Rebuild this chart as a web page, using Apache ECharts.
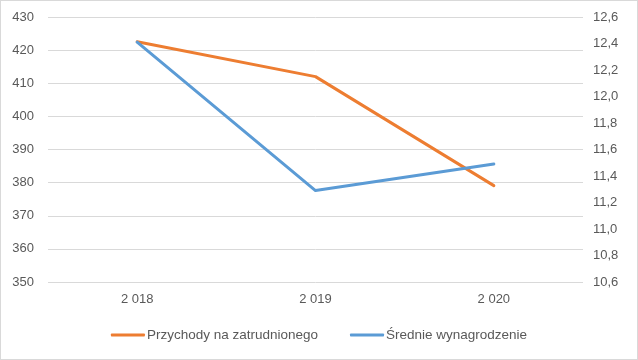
<!DOCTYPE html>
<html><head><meta charset="utf-8">
<script src="https://cdn.jsdelivr.net/npm/echarts@6/dist/echarts.min.js"></script>
<style>html,body{margin:0;padding:0;background:#fff}#c{width:638px;height:360px;box-sizing:border-box;border:1px solid #d9d9d9}</style>
</head><body><div id="c"></div>
<script>
const categories = ['2 018', '2 019', '2 020'];
const przychody = [422.5, 412.0, 379.1];
const wynagrodzenie = [12.41, 11.29, 11.49];
const seriesNames = ['Przychody na zatrudnionego', 'Średnie wynagrodzenie'];

const chart = echarts.init(document.getElementById('c'), null, {renderer: 'canvas'});
const font = 'Liberation Sans, Arial, sans-serif';
const txt = '#595959';
chart.setOption({
  animation: false,
  grid: {left: 47, right: 54, top: 16, bottom: 77},
  legend: {
    bottom: 12, left: 'center', itemGap: 32, itemWidth: 34, itemHeight: 3,
    icon: 'roundRect',
    textStyle: {color: txt, fontFamily: font, fontSize: 13.5, padding: [0,0,0,-3]},
    data: seriesNames
  },
  xAxis: {
    type: 'category', data: categories, boundaryGap: true,
    axisLine: {show: false}, axisTick: {show: false},
    axisLabel: {color: txt, fontFamily: font, fontSize: 13, margin: 11}
  },
  yAxis: [
    {type: 'value', min: 350, max: 430, interval: 10,
     axisLine: {show: false}, axisTick: {show: false},
     splitLine: {lineStyle: {color: '#d9d9d9', width: 1}},
     axisLabel: {color: txt, fontFamily: font, fontSize: 13, margin: 14}},
    {type: 'value', min: 10.6, max: 12.6, interval: 0.2,
     axisLine: {show: false}, axisTick: {show: false},
     splitLine: {show: false},
     axisLabel: {color: txt, fontFamily: font, fontSize: 13, margin: 10,
       formatter: v => v.toFixed(1).replace('.', ',')}}
  ],
  series: [
    {name: seriesNames[0], type: 'line', yAxisIndex: 0, data: przychody,
     showSymbol: false, symbol: 'none', color: '#ed7d31',
     lineStyle: {width: 3, color: '#ed7d31', cap: 'round', join: 'round'}},
    {name: seriesNames[1], type: 'line', yAxisIndex: 1, data: wynagrodzenie,
     showSymbol: false, symbol: 'none', color: '#5b9bd5',
     lineStyle: {width: 3, color: '#5b9bd5', cap: 'round', join: 'round'}}
  ]
});
</script></body></html>
